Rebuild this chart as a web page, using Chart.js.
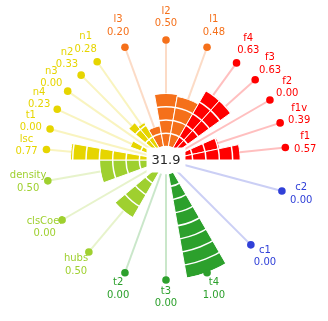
<!DOCTYPE html>
<html><head><meta charset="UTF-8"/><meta name="viewport" content="width=device-width, initial-scale=1.0"/>
<title>Feature wheel</title>
<script src="https://cdn.jsdelivr.net/npm/chart.js"></script>
<style>
* {
    margin: 0;
    padding: 0;
    box-sizing: border-box;
}

body {
    background: #ffffff;
}

.chart-box {
    position: relative;
    width: 328px;
    height: 321px;
}
</style>
</head>
<body>
<div class="chart-box">
    <canvas id="wheelChart"></canvas>
</div>

<script>
// categories clockwise, starting at the left edge of the "l" group
const categories = ['l3', 'l2', 'l1', 'f4', 'f3', 'f2', 'f1v', 'f1', 'c2', 'c1', 't4', 't3', 't2',
    'hubs', 'clsCoef', 'density', 'lsc', 't1', 'n4', 'n3', 'n2', 'n1'];
const scores = [0.20, 0.50, 0.48, 0.63, 0.63, 0.00, 0.39, 0.57, 0.00, 0.00, 1.00, 0.00, 0.00,
    0.50, 0.00, 0.50, 0.77, 0.00, 0.23, 0.00, 0.33, 0.28];
const groupOf = [0, 0, 0, 1, 1, 1, 1, 1, 2, 2, 3, 3, 3, 4, 4, 4, 5, 5, 5, 5, 5, 5];
const groupColors = ['#f5701a', '#ff0000', '#3040d8', '#2ca02c', '#9fd02f', '#e6d500'];
const ringTicks = [-0.125, 0, 0.125, 0.25, 0.375, 0.5, 0.625, 0.75, 0.875, 1];
const totalScore = '31.9';

// every group gets the same share of the circle
function groupSize(g) {
    return groupOf.filter(x => x === g).length;
}
const sliceAngles = groupOf.map(g => 360 / groupColors.length / groupSize(g));
const sliceColors = groupOf.map(g => groupColors[g]);

function tint(hex, alpha) {
    const n = parseInt(hex.slice(1), 16);
    return `rgba(${(n >> 16) & 255}, ${(n >> 8) & 255}, ${n & 255}, ${alpha})`;
}

const wheelDecor = {
    id: 'wheelDecor',
    afterDraw(chart) {
        const ctx = chart.ctx;
        const scale = chart.scales.r;
        const arcs = chart.getDatasetMeta(0).data;
        const cx = scale.xCenter;
        const cy = scale.yCenter;
        const rOuter = scale.getDistanceFromCenterForValue(scale.max);
        const rZero = scale.getDistanceFromCenterForValue(0);

        ctx.save();

        // spokes out from the bar ends to the dots
        arcs.forEach((arc, i) => {
            const a = (arc.startAngle + arc.endAngle) / 2;
            const r0 = scale.getDistanceFromCenterForValue(scores[i]);
            ctx.strokeStyle = tint(sliceColors[i], 0.25);
            ctx.lineWidth = 2;
            ctx.beginPath();
            ctx.moveTo(cx + Math.cos(a) * r0, cy + Math.sin(a) * r0);
            ctx.lineTo(cx + Math.cos(a) * rOuter, cy + Math.sin(a) * rOuter);
            ctx.stroke();
        });

        // hub with the total
        ctx.font = '13px "DejaVu Sans"';
        const w = ctx.measureText(totalScore).width;
        ctx.fillStyle = '#ffffff';
        ctx.beginPath();
        ctx.arc(cx, cy, rZero + 1, 0, Math.PI * 2);
        ctx.fill();
        ctx.fillRect(cx - w / 2 - 5, cy - 12.5, w + 10, 25);
        ctx.fillStyle = '#262626';
        ctx.textAlign = 'center';
        ctx.textBaseline = 'middle';
        ctx.fillText(totalScore, cx, cy + 0.5);

        // dots and labels
        ctx.font = '10px "DejaVu Sans"';
        arcs.forEach((arc, i) => {
            const a = (arc.startAngle + arc.endAngle) / 2;
            ctx.fillStyle = sliceColors[i];
            ctx.beginPath();
            ctx.arc(cx + Math.cos(a) * rOuter, cy + Math.sin(a) * rOuter, 3.8, 0, Math.PI * 2);
            ctx.fill();

            const rl = rOuter + 20;
            const lx = cx + Math.cos(a) * rl;
            const ly = cy + Math.sin(a) * rl - 2.5;
            ctx.fillText(categories[i], lx, ly - 6.2);
            ctx.fillText(scores[i].toFixed(2), lx, ly + 6.2);
        });

        ctx.restore();
    }
};

new Chart(document.getElementById('wheelChart'), {
    type: 'polarArea',
    data: {
        labels: categories,
        datasets: [{
            data: scores,
            angle: sliceAngles,
            backgroundColor: sliceColors,
            borderColor: '#ffffff',
            borderWidth: 1
        }]
    },
    options: {
        responsive: true,
        maintainAspectRatio: false,
        animation: false,
        layout: {
            padding: { left: 46, right: 42, top: 40, bottom: 41 }
        },
        scales: {
            r: {
                min: ringTicks[0],
                max: ringTicks[ringTicks.length - 1],
                startAngle: -30,
                afterBuildTicks: axis => {
                    axis.ticks = ringTicks.map(v => ({ value: v }));
                },
                ticks: { display: false },
                grid: { color: '#ffffff', lineWidth: 1.5, z: 1 },
                angleLines: { display: false },
                pointLabels: { display: false }
            }
        },
        plugins: {
            legend: { display: false },
            tooltip: { enabled: false }
        }
    },
    plugins: [wheelDecor]
});
</script>
</body></html>
